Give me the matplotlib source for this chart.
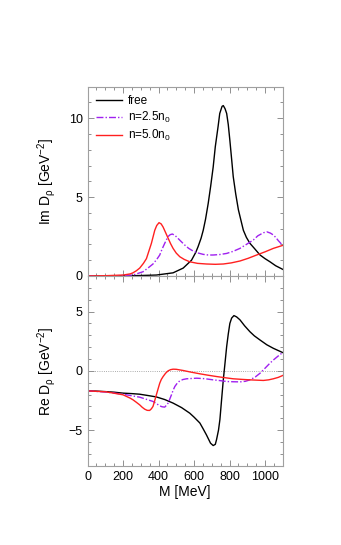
import matplotlib
matplotlib.use("Agg")
import matplotlib.pyplot as plt
from matplotlib.ticker import MultipleLocator

plt.rcParams['font.family'] = ['Liberation Sans', 'DejaVu Sans']
plt.rcParams['mathtext.fontset'] = 'custom'
plt.rcParams['mathtext.rm'] = 'Liberation Sans'
plt.rcParams['mathtext.it'] = 'Liberation Sans:italic'
plt.rcParams['mathtext.default'] = 'regular'

# ---- data (M in MeV, D in GeV^-2) ----
# Im D, free rho
im_free_m = [0, 100, 200, 300, 388, 482, 539, 586, 610, 623, 640, 652, 665, 680, 694, 708, 720,
             736, 745, 758, 765, 775, 784, 793, 802, 812, 821, 835, 850, 865, 878, 895, 915,
             940, 972, 1000, 1028, 1060, 1100]
im_free_v = [0, 0, 0.01, 0.03, 0.06, 0.2, 0.5, 1.0, 1.5, 1.86, 2.4, 2.9, 3.6, 4.6, 5.7, 6.9, 8.2,
             9.5, 10.3, 10.75, 10.8, 10.6, 10.3, 9.6, 8.6, 7.4, 6.3, 5.2, 4.2, 3.5, 2.9, 2.45, 2.07,
             1.75, 1.33, 1.1, 0.9, 0.65, 0.42]

# Im D, n = 2.5 n0
im_25_m = [0, 150, 256, 313, 340, 369, 390, 407, 420, 435, 445, 454, 466, 478, 492, 510, 528,
           548, 570, 595, 625, 652, 680, 708, 745, 784, 820, 859, 895, 934, 960, 991, 1010,
           1030, 1047, 1060, 1075, 1088, 1100]
im_25_v = [0, 0.01, 0.06, 0.27, 0.5, 0.76, 1.05, 1.33, 1.7, 2.07, 2.3, 2.5, 2.62, 2.66, 2.58, 2.38, 2.18,
           1.96, 1.75, 1.58, 1.45, 1.37, 1.33, 1.33, 1.36, 1.43, 1.56, 1.75, 2.0, 2.28, 2.55, 2.74, 2.8,
           2.72, 2.6, 2.45, 2.24, 2.08, 1.94]

# Im D, n = 5.0 n0
im_50_m = [0, 105, 200, 240, 256, 275, 294, 315, 332, 345, 360, 379, 390, 403, 415, 426, 440,
           454, 468, 482, 500, 520, 545, 576, 620, 670, 720, 765, 810, 859, 905, 953, 1000,
           1047, 1100]
im_50_v = [0, 0.02, 0.06, 0.13, 0.2, 0.33, 0.5, 0.8, 1.1, 1.55, 2.07, 2.9, 3.2, 3.38, 3.3, 3.1, 2.75,
           2.4, 2.05, 1.75, 1.45, 1.22, 1.05, 0.9, 0.8, 0.76, 0.74, 0.76, 0.83, 0.95, 1.12, 1.33, 1.53,
           1.75, 1.94]

# Re D, free rho
re_free_m = [0, 50, 100, 150, 200, 250, 294, 340, 388, 435, 482, 530, 576, 600, 633, 650, 670,
             693, 708, 720, 727, 738, 746, 755, 765, 775, 784, 793, 802, 812, 825, 840, 859,
             885, 915, 940, 972, 1010, 1047, 1100]
re_free_v = [-1.69, -1.71, -1.75, -1.8, -1.88, -1.92, -1.97, -2.08, -2.2, -2.42, -2.72, -3.1, -3.57, -3.9, -4.4, -4.85, -5.4,
             -6.1, -6.3, -6.2, -5.8, -5.0, -4.1, -2.5, -0.76, 0.7, 2.05, 3.1, 4.0, 4.45, 4.66, 4.55, 4.3,
             3.8, 3.3, 2.95, 2.6, 2.2, 1.9, 1.54]

# Re D, n = 2.5 n0
re_25_m = [0, 100, 200, 294, 369, 390, 407, 420, 435, 445, 454, 463, 473, 482, 492, 505, 520,
           538, 558, 614, 660, 708, 750, 784, 820, 859, 890, 915, 945, 972, 1000, 1028, 1050,
           1066, 1085, 1100]
re_25_v = [-1.69, -1.78, -1.97, -2.22, -2.58, -2.78, -2.95, -3.03, -3.06, -2.9, -2.72, -2.4, -2.02, -1.65, -1.32, -1.05, -0.84,
           -0.73, -0.67, -0.62, -0.66, -0.76, -0.83, -0.9, -0.92, -0.93, -0.88, -0.76, -0.52, -0.2, 0.22, 0.65, 0.95,
           1.15, 1.38, 1.54]

# Re D, n = 5.0 n0
re_50_m = [0, 105, 200, 240, 256, 275, 294, 308, 322, 336, 350, 360, 369, 378, 388, 398, 407,
           416, 426, 440, 454, 468, 482, 500, 539, 580, 633, 680, 727, 775, 821, 870, 915,
           991, 1020, 1047, 1075, 1100]
re_50_v = [-1.69, -1.77, -2.02, -2.3, -2.44, -2.65, -2.87, -3.07, -3.23, -3.33, -3.34, -3.2, -3.0, -2.55, -2.02, -1.5, -1.04,
           -0.72, -0.48, -0.2, 0.0, 0.1, 0.14, 0.13, 0.03, -0.1, -0.25, -0.37, -0.48, -0.58, -0.67, -0.72, -0.76,
           -0.81, -0.76, -0.67, -0.55, -0.39]

labels = ["free", "n=2.5n$_0$", "n=5.0n$_0$"]
colors = ["black", "#a020f0", "#ff2020"]
styles = ["-", (0, (5, 1.5, 1, 1.5)), "-"]


def style_axis(ax):
    ax.set_xlim(0, 1100)
    ax.xaxis.set_major_locator(MultipleLocator(200))
    ax.xaxis.set_minor_locator(MultipleLocator(50))
    ax.yaxis.set_major_locator(MultipleLocator(5))
    ax.yaxis.set_minor_locator(MultipleLocator(1))
    ax.tick_params(which='both', direction='in', top=True, right=True,
                   color='#909090', labelsize=9, width=0.7)
    ax.tick_params(which='major', length=4)
    ax.tick_params(which='minor', length=2)
    for sp in ax.spines.values():
        sp.set_color('#a0a0a0')
        sp.set_linewidth(0.8)


fig = plt.figure(figsize=(3.41, 5.45), dpi=100)
ax1 = fig.add_axes([0.2566, 0.4936, 0.5726, 0.3474])
ax2 = fig.add_axes([0.2566, 0.1455, 0.5726, 0.3481])

for (m, v), lab, c, ls in zip([(im_free_m, im_free_v), (im_25_m, im_25_v), (im_50_m, im_50_v)],
                              labels, colors, styles):
    ax1.plot(m, v, color=c, linestyle=ls, linewidth=1.0, label=lab)

ax2.axhline(0, color='#909090', linestyle=':', linewidth=0.6)
for (m, v), c, ls in zip([(re_free_m, re_free_v), (re_25_m, re_25_v), (re_50_m, re_50_v)],
                         colors, styles):
    ax2.plot(m, v, color=c, linestyle=ls, linewidth=1.0)

style_axis(ax1)
style_axis(ax2)
ax1.set_ylim(0, 12)
ax2.set_ylim(-8, 8)
ax1.tick_params(labelbottom=False)

ax1.set_ylabel(r"Im D$_\rho$ [GeV$^{-2}$]", fontsize=10)
ax2.set_ylabel(r"Re D$_\rho$ [GeV$^{-2}$]", fontsize=10)
ax2.set_xlabel("M [MeV]", fontsize=10, labelpad=2)
ax1.yaxis.set_label_coords(-0.15, 0.5)
ax2.yaxis.set_label_coords(-0.15, 0.5)

ax1.legend(loc='upper left', frameon=False, fontsize=8.5, handlelength=2.2,
           borderaxespad=0.3, labelspacing=0.25, handletextpad=0.5)

fig.savefig("out.png", dpi=100)
